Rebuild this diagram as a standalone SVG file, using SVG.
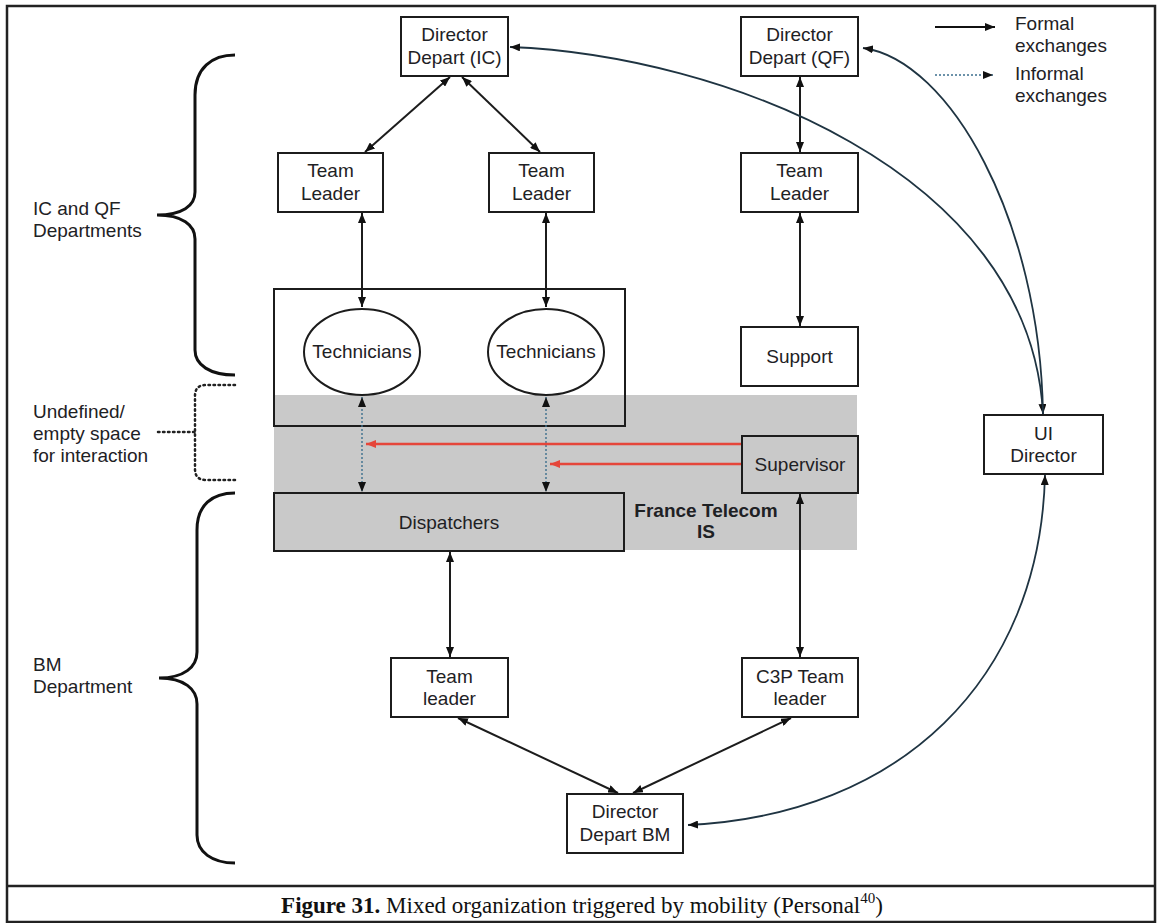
<svg xmlns="http://www.w3.org/2000/svg" width="1163" height="923" viewBox="0 0 1163 923">
<style>
.box{fill:#fff;stroke:#1c1c1c;stroke-width:2}
.gbox{fill:#c9c9c9;stroke:#1c1c1c;stroke-width:2}
.t{font-family:"Liberation Sans",Arial,sans-serif;font-size:19px;fill:#1e2124}
.c{text-anchor:middle}
.b{font-weight:bold}
.conn{stroke:#1c1c1c;stroke-width:2;fill:none;marker-start:url(#ah);marker-end:url(#ah)}
.curve{stroke:#1f3442;stroke-width:1.8;fill:none}
.dot{stroke:#3d6f8e;stroke-width:1.4;stroke-dasharray:2 2;fill:none}
.red{stroke:#e5463a;stroke-width:2.4;fill:none;marker-end:url(#rh)}
.brace{stroke:#111;stroke-width:3;fill:none}
.dbrace{stroke:#222;stroke-width:2.5;fill:none;stroke-dasharray:1.5 3.5;stroke-linecap:round}
</style>
<defs>
<marker id="ah" viewBox="0 0 10 8" refX="10" refY="4" markerWidth="10" markerHeight="8" markerUnits="userSpaceOnUse" orient="auto-start-reverse"><path d="M0,0 L10,4 L0,8 z" fill="#111"/></marker>
<marker id="rh" viewBox="0 0 10 8" refX="10" refY="4" markerWidth="10" markerHeight="8" markerUnits="userSpaceOnUse" orient="auto-start-reverse"><path d="M0,0 L10,4 L0,8 z" fill="#e5463a"/></marker>
</defs>
<rect x="0" y="0" width="1163" height="923" fill="#fff"/>
<rect x="7" y="6" width="1148" height="916" fill="none" stroke="#222" stroke-width="2.5"/>
<line x1="7" y1="886" x2="1155" y2="886" stroke="#222" stroke-width="2.5"/>

<!-- gray band -->
<rect x="274" y="395" width="583" height="155" fill="#c9c9c9"/>

<g id="braces">
<path class="brace" d="M235,55 C212,55 195,68 195,95 L195,192 C195,206 182,215 157,215 C182,215 195,225 195,239 L195,350 C195,365 210,375 235,375"/>
<path class="dbrace" d="M235,385 L206,385 Q195,385 195,396 L195,469 Q195,480 206,480 L235,480 M158,432 L195,432"/>
<path class="brace" d="M235,493 C212,493 197,505 197,530 L197,652 C197,667 184,678 159,678 C184,678 197,689 197,704 L197,835 C197,852 212,863 235,863"/>
</g>
<g id="labels">
<text class="t" x="33" y="215">IC and QF</text>
<text class="t" x="33" y="237">Departments</text>
<text class="t" x="33" y="418">Undefined/</text>
<text class="t" x="33" y="440">empty space</text>
<text class="t" x="33" y="462">for interaction</text>
<text class="t" x="33" y="671">BM</text>
<text class="t" x="33" y="693">Department</text>
<text class="t b c" x="706" y="517">France Telecom</text>
<text class="t b c" x="706" y="538">IS</text>
</g>

<g id="legend">
<line x1="935" y1="27" x2="995" y2="27" stroke="#111" stroke-width="2" marker-end="url(#ah)"/>
<line x1="935" y1="75" x2="993" y2="75" class="dot" marker-end="url(#ah)"/>
<text class="t" x="1015" y="30">Formal</text>
<text class="t" x="1015" y="52">exchanges</text>
<text class="t" x="1015" y="80">Informal</text>
<text class="t" x="1015" y="102">exchanges</text>
</g>

<g id="tech-area">
<rect x="274" y="289" width="351" height="137" fill="none" stroke="#1c1c1c" stroke-width="2"/>
</g>
<g id="technicians1">
<ellipse cx="362" cy="352" rx="58" ry="43" class="box"/>
<text class="t c" x="362" y="358">Technicians</text>
</g>
<g id="technicians2">
<ellipse cx="546" cy="352" rx="58" ry="43" class="box"/>
<text class="t c" x="546" y="358">Technicians</text>
</g>

<g id="dir-ic">
<rect x="401" y="17" width="107" height="59" class="box"/>
<text class="t c" x="454.5" y="41">Director</text>
<text class="t c" x="454.5" y="64">Depart (IC)</text>
</g>
<g id="dir-qf">
<rect x="741" y="17" width="117" height="59" class="box"/>
<text class="t c" x="799.5" y="41">Director</text>
<text class="t c" x="799.5" y="64">Depart (QF)</text>
</g>
<g id="tl1">
<rect x="278" y="153" width="105" height="59" class="box"/>
<text class="t c" x="330.5" y="177">Team</text>
<text class="t c" x="330.5" y="200">Leader</text>
</g>
<g id="tl2">
<rect x="489" y="153" width="105" height="59" class="box"/>
<text class="t c" x="541.5" y="177">Team</text>
<text class="t c" x="541.5" y="200">Leader</text>
</g>
<g id="tl-qf">
<rect x="741" y="153" width="117" height="59" class="box"/>
<text class="t c" x="799.5" y="177">Team</text>
<text class="t c" x="799.5" y="200">Leader</text>
</g>
<g id="support">
<rect x="741" y="327" width="117" height="59" class="box"/>
<text class="t c" x="799.5" y="363">Support</text>
</g>
<g id="supervisor">
<rect x="742" y="436" width="116" height="57" class="gbox"/>
<text class="t c" x="800" y="471">Supervisor</text>
</g>
<g id="dispatchers">
<rect x="274" y="493" width="350" height="58" class="gbox"/>
<text class="t c" x="449" y="529">Dispatchers</text>
</g>
<g id="ui-director">
<rect x="984" y="415" width="119" height="59" class="box"/>
<text class="t c" x="1043.5" y="440">UI</text>
<text class="t c" x="1043.5" y="462">Director</text>
</g>
<g id="tl-bm">
<rect x="391" y="658" width="117" height="59" class="box"/>
<text class="t c" x="449.5" y="683">Team</text>
<text class="t c" x="449.5" y="705">leader</text>
</g>
<g id="c3p">
<rect x="742" y="658" width="116" height="59" class="box"/>
<text class="t c" x="800" y="683">C3P Team</text>
<text class="t c" x="800" y="705">leader</text>
</g>
<g id="dir-bm">
<rect x="567" y="794" width="116" height="59" class="box"/>
<text class="t c" x="625" y="818">Director</text>
<text class="t c" x="625" y="841">Depart BM</text>
</g>

<g id="connectors">
<line class="conn" x1="450" y1="77" x2="365" y2="152"/>
<line class="conn" x1="462" y1="77" x2="540" y2="152"/>
<line class="conn" x1="800" y1="77" x2="800" y2="152"/>
<line class="conn" x1="362" y1="213" x2="362" y2="307"/>
<line class="conn" x1="546" y1="213" x2="546" y2="307"/>
<line class="conn" x1="800" y1="213" x2="800" y2="326"/>
<line class="dot" x1="362" y1="397" x2="362" y2="492" marker-start="url(#ah)" marker-end="url(#ah)"/>
<line class="dot" x1="546" y1="397" x2="546" y2="492" marker-start="url(#ah)" marker-end="url(#ah)"/>
<line class="red" x1="741" y1="444" x2="366" y2="444"/>
<line class="red" x1="741" y1="464" x2="550" y2="464"/>
<line class="conn" x1="450" y1="552" x2="450" y2="657"/>
<line class="conn" x1="800" y1="494" x2="800" y2="657"/>
<line class="conn" x1="458" y1="718" x2="618" y2="793"/>
<line class="conn" x1="791" y1="718" x2="633" y2="793"/>
<path class="curve" d="M510,47 C720,55 1030,170 1043,414" marker-start="url(#ah)" marker-end="url(#ah)"/>
<path class="curve" d="M863,48 C950,60 1040,220 1043,414" marker-start="url(#ah)"/>
<path class="curve" d="M1045,475 C1040,680 900,815 688,825" marker-start="url(#ah)" marker-end="url(#ah)"/>
</g>

<text x="582" y="913" text-anchor="middle" style="font-family:'Liberation Serif','Times New Roman',serif;font-size:23px;fill:#111"><tspan font-weight="bold">Figure 31.</tspan> Mixed organization triggered by mobility (Personal<tspan dy="-10" font-size="15">40</tspan><tspan dy="10">)</tspan></text>
</svg>
